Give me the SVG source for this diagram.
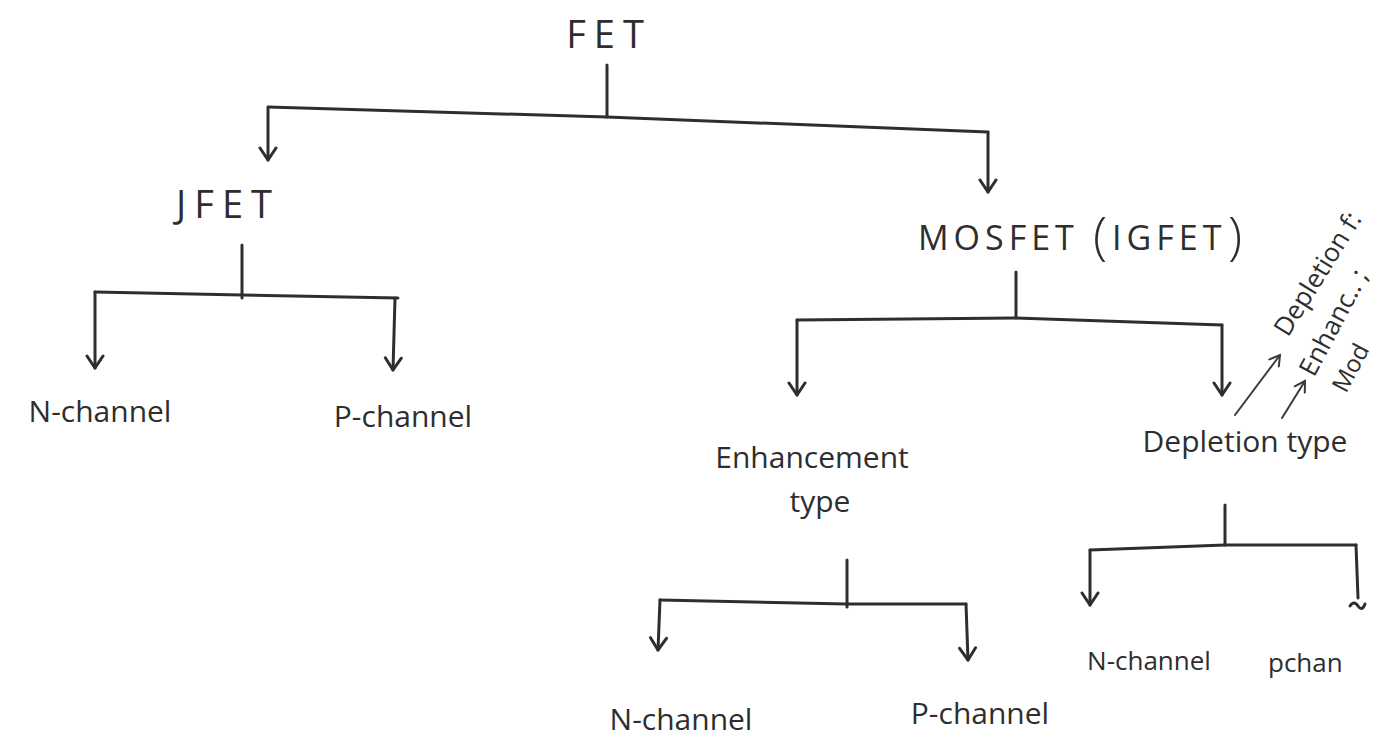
<svg xmlns="http://www.w3.org/2000/svg" width="1376" height="737" viewBox="0 0 1376 737">
  <defs>
    <style>
      .lbl { font-family: "Open Sans", "Liberation Sans", sans-serif; fill: #2e2e2e; }
      .cap { font-size: 38px; letter-spacing: 8px; }
      .mid { font-size: 34px; letter-spacing: 5px; }
      .low { font-size: 30px; }
      .sm { font-size: 26px; }
      .wire { fill: none; stroke: #2e2e2e; stroke-width: 3; stroke-linecap: round; stroke-linejoin: round; }
      .thin { fill: none; stroke: #3a3a3a; stroke-width: 2; stroke-linecap: round; }
    </style>
    <!-- open V head drawn along the line direction -->
    <marker id="head" viewBox="0 0 20 20" refX="18" refY="10" markerWidth="20" markerHeight="20" markerUnits="userSpaceOnUse" orient="auto">
      <path d="M6 2 L18 10 L6 18" fill="none" stroke="#2e2e2e" stroke-width="3" stroke-linecap="round" stroke-linejoin="round"/>
    </marker>
    <marker id="tip" viewBox="0 0 14 14" refX="12" refY="7" markerWidth="14" markerHeight="14" markerUnits="userSpaceOnUse" orient="auto">
      <path d="M2 1 L12 7 L2 13" fill="none" stroke="#3a3a3a" stroke-width="2" stroke-linecap="round"/>
    </marker>
  </defs>
  <rect width="1376" height="737" fill="#ffffff"/>

  <g id="connectors">
    <!-- FET branch -->
    <path class="wire" d="M607 65 L607 117"/>
    <path class="wire" d="M268 107 L607 117 L988 132"/>
    <path class="wire" d="M268 108 L268 160" marker-end="url(#head)"/>
    <path class="wire" d="M988 132 L988 192" marker-end="url(#head)"/>
    <!-- JFET branch -->
    <path class="wire" d="M242 245 L242 298"/>
    <path class="wire" d="M95 292 L242 295 L398 298"/>
    <path class="wire" d="M95 292 L95 368" marker-end="url(#head)"/>
    <path class="wire" d="M395 298 L393 370" marker-end="url(#head)"/>
    <!-- MOSFET branch -->
    <path class="wire" d="M1016 272 L1016 318"/>
    <path class="wire" d="M797 320 L1016 318 L1222 325"/>
    <path class="wire" d="M797 320 L797 395" marker-end="url(#head)"/>
    <path class="wire" d="M1222 325 L1222 395" marker-end="url(#head)"/>
    <!-- Enhancement branch -->
    <path class="wire" d="M847 560 L847 607"/>
    <path class="wire" d="M660 600 L847 604 L966 604"/>
    <path class="wire" d="M660 600 L658 650" marker-end="url(#head)"/>
    <path class="wire" d="M966 604 L968 660" marker-end="url(#head)"/>
    <!-- Depletion branch -->
    <path class="wire" d="M1225 505 L1225 545"/>
    <path class="wire" d="M1090 550 L1225 545 L1356 545"/>
    <path class="wire" d="M1090 550 L1090 605" marker-end="url(#head)"/>
    <path class="wire" d="M1356 545 L1358 598"/>
    <path class="wire" d="M1350 606 Q1354 600 1358 606 Q1362 612 1365 604"/>
    <!-- side notes -->
    <path class="thin" d="M1235 415 L1280 355" marker-end="url(#tip)"/>
    <path class="thin" d="M1282 418 L1305 381" marker-end="url(#tip)"/>
  </g>

  <g id="fet"><text class="lbl cap" x="609" y="48" text-anchor="middle">FET</text></g>
  <g id="jfet"><text class="lbl cap" x="228" y="218" text-anchor="middle">JFET</text></g>
  <g id="jfet-n"><text class="lbl low" x="100" y="422" text-anchor="middle">N-channel</text></g>
  <g id="jfet-p"><text class="lbl low" x="403" y="427" text-anchor="middle">P-channel</text></g>
  <g id="mosfet">
    <text class="lbl mid" x="918" y="250">MOSFET</text>
    <text class="lbl" x="1093" y="254" font-size="52" font-weight="300">(</text>
    <text class="lbl mid" x="1112" y="250">IGFET</text>
    <text class="lbl" x="1228" y="254" font-size="52" font-weight="300">)</text>
  </g>
  <g id="enhancement">
    <text class="lbl low" x="812" y="468" text-anchor="middle">Enhancement</text>
    <text class="lbl low" x="820" y="512" text-anchor="middle">type</text>
  </g>
  <g id="depletion"><text class="lbl low" x="1245" y="452" text-anchor="middle">Depletion type</text></g>
  <g id="enh-n"><text class="lbl low" x="681" y="730" text-anchor="middle">N-channel</text></g>
  <g id="enh-p"><text class="lbl low" x="980" y="724" text-anchor="middle">P-channel</text></g>
  <g id="dep-n"><text class="lbl sm" x="1149" y="670" text-anchor="middle">N-channel</text></g>
  <g id="dep-p"><text class="lbl sm" x="1268" y="672">pchan</text></g>
  <g id="notes">
    <text class="lbl sm" transform="translate(1288 338) rotate(-58)">Depletion f:</text>
    <text class="lbl sm" transform="translate(1314 378) rotate(-62)">Enhanc.. ;</text>
    <text class="lbl" font-size="24" transform="translate(1346 394) rotate(-62)">Mod</text>
  </g>
</svg>
